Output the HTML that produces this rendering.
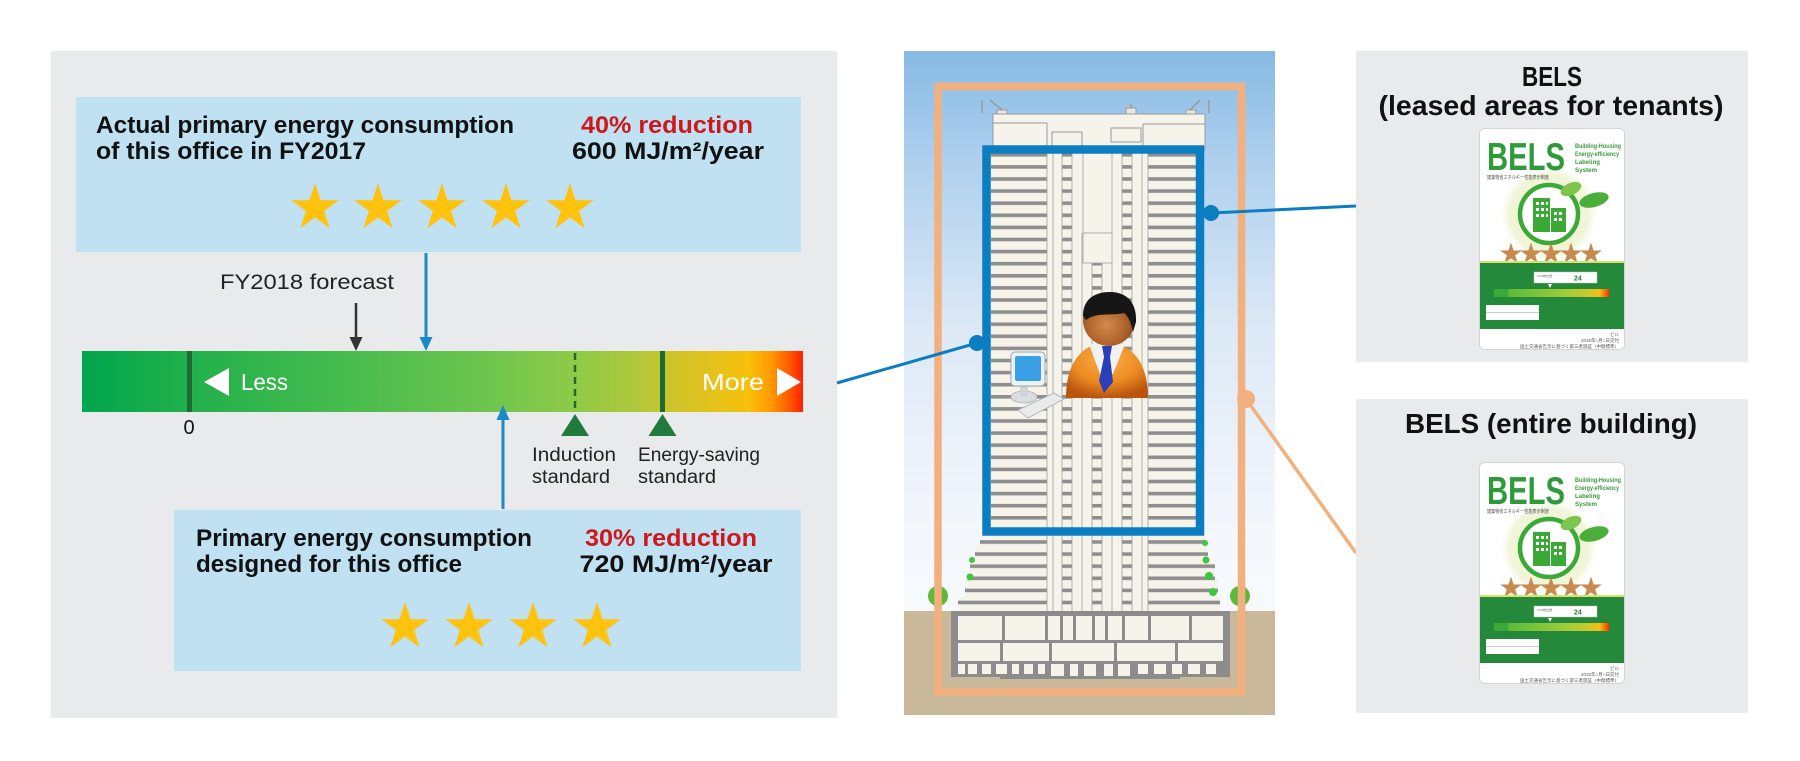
<!DOCTYPE html>
<html>
<head>
<meta charset="utf-8">
<style>
html,body{margin:0;padding:0;background:#fff;}
body{width:1800px;height:761px;overflow:hidden;}
svg{display:block;}
</style>
</head>
<body>
<svg width="1800" height="761" viewBox="0 0 1800 761" xmlns="http://www.w3.org/2000/svg" xmlns:xlink="http://www.w3.org/1999/xlink" font-family="'Liberation Sans', 'Noto Sans CJK JP', sans-serif">
<defs>
  <path id="star" d="M0,-25 L5.61,-7.73 L23.78,-7.73 L9.08,2.95 L14.69,20.23 L0,9.55 L-14.69,20.23 L-9.08,2.95 L-23.78,-7.73 L-5.61,-7.73 Z"/>
  <linearGradient id="bar" x1="82" y1="0" x2="803" y2="0" gradientUnits="userSpaceOnUse">
    <stop offset="0" stop-color="#00a54f"/>
    <stop offset="0.12" stop-color="#1cae4b"/>
    <stop offset="0.35" stop-color="#45bb4e"/>
    <stop offset="0.55" stop-color="#6bc44e"/>
    <stop offset="0.68" stop-color="#8dca48"/>
    <stop offset="0.77" stop-color="#b0c83a"/>
    <stop offset="0.82" stop-color="#cfc42a"/>
    <stop offset="0.88" stop-color="#e6c21a"/>
    <stop offset="0.925" stop-color="#f8c00a"/>
    <stop offset="0.955" stop-color="#ff9a00"/>
    <stop offset="0.98" stop-color="#ff5c00"/>
    <stop offset="1" stop-color="#ff2000"/>
  </linearGradient>
  <linearGradient id="sky" x1="0" y1="51" x2="0" y2="611" gradientUnits="userSpaceOnUse">
    <stop offset="0" stop-color="#86bae3"/>
    <stop offset="0.2" stop-color="#afd0ee"/>
    <stop offset="0.5" stop-color="#dde9f6"/>
    <stop offset="0.85" stop-color="#f3f7fc"/>
    <stop offset="1" stop-color="#f7fafd"/>
  </linearGradient>
  <pattern id="floors" x="0" y="153" width="12" height="12.1" patternUnits="userSpaceOnUse">
    <rect width="12" height="12.1" fill="#f6f3ea"/>
    <rect y="0" width="12" height="3.6" fill="#8e8e8e"/>
  </pattern>
  <radialGradient id="headg" cx="0.45" cy="0.6" r="0.6">
    <stop offset="0" stop-color="#d58a4a"/>
    <stop offset="0.7" stop-color="#a85e26"/>
    <stop offset="1" stop-color="#7a3e14"/>
  </radialGradient>
  <radialGradient id="bodyg" cx="0.5" cy="0.3" r="0.7">
    <stop offset="0" stop-color="#fbb04a"/>
    <stop offset="0.6" stop-color="#ec8a22"/>
    <stop offset="1" stop-color="#b9540c"/>
  </radialGradient>
  <radialGradient id="burst" cx="0.5" cy="0.5" r="0.5">
    <stop offset="0" stop-color="#eef3cf"/>
    <stop offset="0.8" stop-color="#f1f5d9"/>
    <stop offset="1" stop-color="#ffffff" stop-opacity="0"/>
  </radialGradient>
  <linearGradient id="lbar" x1="0" y1="0" x2="1" y2="0">
    <stop offset="0" stop-color="#3aa935"/>
    <stop offset="0.12" stop-color="#3aa935"/>
    <stop offset="0.13" stop-color="#5cbb3a"/>
    <stop offset="0.6" stop-color="#9ccc3a"/>
    <stop offset="0.8" stop-color="#c6c830"/>
    <stop offset="0.92" stop-color="#f6c012"/>
    <stop offset="1" stop-color="#ff3000"/>
  </linearGradient>
</defs>

<!-- ================= LEFT PANEL ================= -->
<rect x="51" y="51" width="786" height="667" fill="#e9eaeb"/>

<!-- top box -->
<rect x="76" y="97" width="725" height="155" fill="#bfe1f1"/>
<text x="96" y="133" font-size="24" font-weight="bold" fill="#111" textLength="418" lengthAdjust="spacingAndGlyphs">Actual primary energy consumption</text>
<text x="96" y="159" font-size="24" font-weight="bold" fill="#111" textLength="270" lengthAdjust="spacingAndGlyphs">of this office in FY2017</text>
<text x="667" y="133" font-size="24" font-weight="bold" fill="#d0161b" text-anchor="middle" textLength="172" lengthAdjust="spacingAndGlyphs">40% reduction</text>
<text x="668" y="159" font-size="24" font-weight="bold" fill="#111" text-anchor="middle" textLength="192" lengthAdjust="spacingAndGlyphs">600 MJ/m²/year</text>
<g fill="#ffc20e">
  <use xlink:href="#star" x="315" y="208"/>
  <use xlink:href="#star" x="378" y="208"/>
  <use xlink:href="#star" x="442" y="208"/>
  <use xlink:href="#star" x="506" y="208"/>
  <use xlink:href="#star" x="570" y="208"/>
</g>

<!-- arrows above bar -->
<line x1="426" y1="253" x2="426" y2="339" stroke="#1a8ac8" stroke-width="3"/>
<polygon points="419.5,337 432.5,337 426,351" fill="#1a8ac8"/>
<text x="220" y="289" font-size="21" fill="#222" textLength="174" lengthAdjust="spacingAndGlyphs">FY2018 forecast</text>
<line x1="356" y1="303" x2="356" y2="339" stroke="#333" stroke-width="2.5"/>
<polygon points="349.5,337 362.5,337 356,351" fill="#333"/>

<!-- bar -->
<rect x="82" y="351" width="721" height="61" fill="url(#bar)"/>
<rect x="187" y="351" width="5" height="61" fill="#1d6a34"/>
<line x1="575" y1="353" x2="575" y2="412" stroke="#1d6a34" stroke-width="2.5" stroke-dasharray="7 5"/>
<rect x="660" y="351" width="5" height="61" fill="#1d6a34"/>
<polygon points="229,368 229,396 204,382" fill="#fff"/>
<text x="241" y="390" font-size="23" fill="#fff" textLength="47" lengthAdjust="spacingAndGlyphs">Less</text>
<text x="702" y="390" font-size="23" fill="#fff" textLength="62" lengthAdjust="spacingAndGlyphs">More</text>
<polygon points="777,368 777,396 801,382" fill="#fff"/>

<!-- below bar -->
<text x="189" y="434" font-size="20" fill="#111" text-anchor="middle">0</text>
<polygon points="575,414 561,436 589,436" fill="#1f7a3c"/>
<polygon points="662.5,414 648.5,436 676.5,436" fill="#1f7a3c"/>
<text x="532" y="461" font-size="19" fill="#222" textLength="84" lengthAdjust="spacingAndGlyphs">Induction</text>
<text x="532" y="483" font-size="19" fill="#222" textLength="78" lengthAdjust="spacingAndGlyphs">standard</text>
<text x="638" y="461" font-size="19" fill="#222" textLength="122" lengthAdjust="spacingAndGlyphs">Energy-saving</text>
<text x="638" y="483" font-size="19" fill="#222" textLength="78" lengthAdjust="spacingAndGlyphs">standard</text>

<line x1="503" y1="509" x2="503" y2="418" stroke="#1a8ac8" stroke-width="3"/>
<polygon points="496.5,420 509.5,420 503,405" fill="#1a8ac8"/>

<!-- bottom box -->
<rect x="174" y="510" width="627" height="161" fill="#bfe1f1"/>
<text x="196" y="546" font-size="24" font-weight="bold" fill="#111" textLength="336" lengthAdjust="spacingAndGlyphs">Primary energy consumption</text>
<text x="196" y="572" font-size="24" font-weight="bold" fill="#111" textLength="266" lengthAdjust="spacingAndGlyphs">designed for this office</text>
<text x="671" y="546" font-size="24" font-weight="bold" fill="#d0161b" text-anchor="middle" textLength="172" lengthAdjust="spacingAndGlyphs">30% reduction</text>
<text x="676" y="572" font-size="24" font-weight="bold" fill="#111" text-anchor="middle" textLength="193" lengthAdjust="spacingAndGlyphs">720 MJ/m²/year</text>
<g fill="#ffc20e">
  <use xlink:href="#star" x="405" y="627"/>
  <use xlink:href="#star" x="469" y="627"/>
  <use xlink:href="#star" x="533" y="627"/>
  <use xlink:href="#star" x="597" y="627"/>
</g>

<!-- ================= BUILDING PANEL ================= -->
<rect x="904" y="51" width="371" height="560" fill="url(#sky)"/>
<rect x="904" y="611" width="371" height="104" fill="#c9b99a"/>

<!-- roof equipment -->
<g stroke="#9a9a9a" stroke-width="1.5" fill="none">
  <line x1="982" y1="100" x2="982" y2="113"/>
  <line x1="990" y1="100" x2="1002" y2="110"/>
  <line x1="1209" y1="100" x2="1209" y2="113"/>
  <line x1="1200" y1="100" x2="1190" y2="110"/>
  <line x1="1131" y1="104" x2="1131" y2="113"/>
</g>
<g fill="#e8e6de" stroke="#9a9a9a" stroke-width="1">
  <rect x="997" y="110" width="10" height="5"/>
  <rect x="1186" y="110" width="10" height="5"/>
  <rect x="1126" y="108" width="10" height="6"/>
</g>
<!-- top block -->
<rect x="993" y="114" width="212" height="36" fill="#f6f3ea" stroke="#9a9a9a" stroke-width="1"/>
<g stroke="#9a9a9a" stroke-width="1" fill="none">
  <line x1="993" y1="123" x2="1047" y2="123"/>
  <line x1="1047" y1="123" x2="1047" y2="150"/>
  <rect x="1052" y="132" width="30" height="18"/>
  <rect x="1111" y="128" width="30" height="14"/>
  <line x1="1143" y1="124" x2="1205" y2="124"/>
  <line x1="1143" y1="124" x2="1143" y2="150"/>
</g>

<!-- tower body -->
<rect x="991" y="150" width="208" height="390" fill="url(#floors)"/>
<rect x="980" y="536" width="225" height="10" fill="url(#floors)"/>
<rect x="975" y="546" width="233" height="17" fill="url(#floors)"/>
<rect x="970" y="563" width="245" height="17" fill="url(#floors)"/>
<rect x="965" y="580" width="253" height="17" fill="url(#floors)"/>
<rect x="958" y="597" width="262" height="16" fill="url(#floors)"/>

<!-- central columns -->
<g fill="#f6f3ea" stroke="#a2a2a2" stroke-width="0.8">
  <rect x="1047" y="150" width="15" height="463"/>
  <rect x="1072" y="150" width="20" height="463"/>
  <rect x="1102" y="150" width="20" height="463"/>
  <rect x="1132" y="150" width="16" height="463"/>
  <rect x="1083" y="153" width="29" height="80"/>
  <rect x="1083" y="233" width="29" height="30"/>
</g>
<g stroke="#a2a2a2" stroke-width="0.8">
  <line x1="1053" y1="150" x2="1053" y2="613"/>
  <line x1="1082" y1="233" x2="1082" y2="613"/>
  <line x1="1112" y1="263" x2="1112" y2="613"/>
  <line x1="1142" y1="150" x2="1142" y2="613"/>
</g>

<!-- basement -->
<rect x="951" y="611" width="279" height="66" fill="#8c8c8c"/>
<rect x="1000" y="670" width="180" height="9" fill="#8c8c8c"/>
<g fill="#f6f3ea">
  <rect x="958" y="616" width="44" height="24"/>
  <rect x="1005" y="616" width="40" height="24"/>
  <rect x="1048" y="616" width="12" height="24"/>
  <rect x="1063" y="616" width="10" height="24"/>
  <rect x="1076" y="616" width="16" height="24"/>
  <rect x="1095" y="616" width="10" height="24"/>
  <rect x="1108" y="616" width="14" height="24"/>
  <rect x="1125" y="616" width="23" height="24"/>
  <rect x="1151" y="616" width="38" height="24"/>
  <rect x="1192" y="616" width="31" height="24"/>
  <rect x="958" y="643" width="42" height="18"/>
  <rect x="1003" y="643" width="46" height="18"/>
  <rect x="1052" y="643" width="62" height="18"/>
  <rect x="1117" y="643" width="58" height="18"/>
  <rect x="1178" y="643" width="45" height="18"/>
  <rect x="958" y="664" width="7" height="10"/>
  <rect x="968" y="664" width="9" height="10"/>
  <rect x="982" y="664" width="9" height="10"/>
  <rect x="996" y="664" width="11" height="10"/>
  <rect x="1012" y="664" width="7" height="10"/>
  <rect x="1024" y="664" width="9" height="10"/>
  <rect x="1038" y="664" width="7" height="10"/>
  <rect x="1051" y="664" width="13" height="12"/>
  <rect x="1070" y="664" width="8" height="12"/>
  <rect x="1084" y="664" width="12" height="12"/>
  <rect x="1104" y="664" width="9" height="12"/>
  <rect x="1118" y="664" width="12" height="12"/>
  <rect x="1138" y="664" width="10" height="10"/>
  <rect x="1154" y="664" width="12" height="10"/>
  <rect x="1172" y="664" width="10" height="10"/>
  <rect x="1188" y="664" width="12" height="10"/>
  <rect x="1206" y="664" width="10" height="10"/>
</g>

<!-- trees and greenery -->
<g fill="#5fb83a">
  <circle cx="938" cy="596" r="10"/>
  <circle cx="1240" cy="596" r="10"/>
</g>
<g fill="#3cc83c">
  <circle cx="1205" cy="543" r="3"/>
  <circle cx="1206" cy="560" r="3.5"/>
  <circle cx="1209" cy="576" r="4"/>
  <circle cx="1213" cy="592" r="4"/>
  <circle cx="972" cy="560" r="3"/>
  <circle cx="970" cy="577" r="3.5"/>
</g>

<!-- orange frame (entire building) -->
<rect x="938" y="86.5" width="303.5" height="605.5" fill="none" stroke="#f2b07e" stroke-width="7.5"/>
<!-- blue frame (leased areas) -->
<rect x="986.5" y="149.5" width="213.5" height="382" fill="none" stroke="#0b7dc1" stroke-width="8.5"/>

<!-- computer -->
<ellipse cx="1024" cy="397" rx="13" ry="6" fill="#d9dde0" stroke="#a9afb3" stroke-width="0.8"/>
<rect x="1020" y="386" width="8" height="10" fill="#cfd4d8"/>
<rect x="1011" y="352" width="34" height="34" rx="4" fill="#eef2f5" stroke="#9aa6ad" stroke-width="1"/>
<rect x="1015" y="356" width="26" height="25" rx="2" fill="#3aa0e6"/>
<polygon points="1018,410 1054,393 1064,399 1028,418" fill="#e8eaec" stroke="#a6abaf" stroke-width="0.8"/>

<!-- person -->
<path d="M1066,398 C1066,362 1082,344 1107,342 C1132,344 1148,362 1148,398 Z" fill="url(#bodyg)"/>
<polygon points="1089,344 1125,344 1113,374 1100,374" fill="#f2f2f2"/>
<polygon points="1102,346 1112,346 1110,357 1113,382 1104,393 1099,381 1104,357" fill="#2a3fb8"/>
<circle cx="1109" cy="320" r="26" fill="url(#headg)"/>
<path d="M1083,316 C1083,298 1096,292 1110,292 C1128,292 1137,304 1136,322 L1133,332 C1131,322 1128,316 1124,313 C1112,316 1096,312 1086,320 Z" fill="#161616"/>

<!-- connectors -->
<line x1="837" y1="383" x2="977" y2="343" stroke="#0b7dc1" stroke-width="3"/>
<circle cx="977" cy="343" r="8" fill="#0b7dc1"/>
<line x1="1211" y1="213" x2="1356" y2="206" stroke="#0b7dc1" stroke-width="3"/>
<circle cx="1211" cy="213" r="8" fill="#0b7dc1"/>
<line x1="1246" y1="399" x2="1356" y2="553" stroke="#f2b07e" stroke-width="3.5"/>
<circle cx="1246" cy="399" r="9" fill="#f2b07e"/>

<!-- ================= RIGHT PANELS ================= -->
<rect x="1356" y="51" width="392" height="311" fill="#e9eaeb"/>
<rect x="1356" y="399" width="392" height="314" fill="#e9eaeb"/>
<text x="1552" y="86" font-size="28" font-weight="bold" fill="#111" text-anchor="middle" textLength="60" lengthAdjust="spacingAndGlyphs">BELS</text>
<text x="1551" y="115" font-size="28" font-weight="bold" fill="#111" text-anchor="middle" textLength="345" lengthAdjust="spacingAndGlyphs">(leased areas for tenants)</text>
<text x="1551" y="433" font-size="28" font-weight="bold" fill="#111" text-anchor="middle" textLength="292" lengthAdjust="spacingAndGlyphs">BELS (entire building)</text>

<!-- label 1 -->
<g transform="translate(1479,128)">
  <rect x="0.5" y="0.5" width="145" height="221" rx="5" fill="#fff" stroke="#d4d4d4"/>
  <circle cx="70" cy="86" r="50" fill="url(#burst)"/>
  <text x="8" y="42" font-size="39" font-weight="bold" fill="#2f9a3a" textLength="78" lengthAdjust="spacingAndGlyphs">BELS</text>
  <g font-size="6.5" font-weight="bold" fill="#3a9a3a">
    <text x="96" y="20" textLength="46" lengthAdjust="spacingAndGlyphs">Building-Housing</text>
    <text x="96" y="28" textLength="44" lengthAdjust="spacingAndGlyphs">Energy-efficiency</text>
    <text x="96" y="36" textLength="25" lengthAdjust="spacingAndGlyphs">Labeling</text>
    <text x="96" y="44" textLength="22" lengthAdjust="spacingAndGlyphs">System</text>
  </g>
  <text x="8" y="51" font-size="5" fill="#555" textLength="62" lengthAdjust="spacingAndGlyphs">建築物省エネルギー性能表示制度</text>
  <circle cx="70" cy="86" r="29" fill="#fff" stroke="#3aa935" stroke-width="4.5"/>
  <rect x="54" y="70" width="17" height="34" fill="#3aa935"/>
  <rect x="72" y="80" width="15" height="24" fill="#3aa935"/>
  <g fill="#fff">
    <rect x="57" y="74" width="3" height="3"/><rect x="62" y="74" width="3" height="3"/><rect x="67" y="74" width="2" height="3"/>
    <rect x="57" y="80" width="3" height="3"/><rect x="62" y="80" width="3" height="3"/><rect x="67" y="80" width="2" height="3"/>
    <rect x="57" y="86" width="3" height="3"/><rect x="62" y="86" width="3" height="3"/><rect x="67" y="86" width="2" height="3"/>
    <rect x="75" y="84" width="3" height="3"/><rect x="80" y="84" width="3" height="3"/>
    <rect x="75" y="90" width="3" height="3"/><rect x="80" y="90" width="3" height="3"/>
  </g>
  <ellipse cx="92" cy="61" rx="11" ry="6" transform="rotate(-25 92 61)" fill="#7cc64e"/>
  <ellipse cx="115" cy="72" rx="15" ry="7" transform="rotate(-15 115 72)" fill="#4cae3a"/>
  <g fill="#c98a50" stroke="#a86a30" stroke-width="0.5">
    <use xlink:href="#star" transform="translate(32,126) scale(0.44)"/>
    <use xlink:href="#star" transform="translate(52,126) scale(0.44)"/>
    <use xlink:href="#star" transform="translate(72,126) scale(0.44)"/>
    <use xlink:href="#star" transform="translate(92,126) scale(0.44)"/>
    <use xlink:href="#star" transform="translate(112,126) scale(0.44)"/>
  </g>
  <rect x="1" y="133" width="144" height="2" fill="#d7e26a"/>
  <rect x="1" y="135" width="144" height="66" fill="#25893b"/>
  <rect x="55" y="144" width="63" height="11" fill="#fff" stroke="#bbb" stroke-width="0.5"/>
  <text x="95" y="152.5" font-size="7" font-weight="bold" fill="#2a7a3a">24</text>
  <text x="58" y="149" font-size="3" fill="#666">CO2排出量</text>
  <rect x="15" y="161" width="115" height="8" fill="url(#lbar)"/>
  <polygon points="69,156 73,156 71,160" fill="#fff"/>
  <rect x="7" y="177" width="53" height="15" fill="#fff"/>
  <line x1="7" y1="184.5" x2="60" y2="184.5" stroke="#999" stroke-width="0.5"/>
  <g font-size="4.5" fill="#555" text-anchor="end">
    <text x="140" y="208">ビル</text>
    <text x="140" y="214">2016年○月○日交付</text>
    <text x="140" y="220">国土交通省告示に基づく第三者認証（中間標準）</text>
  </g>
</g>

<!-- label 2 -->
<g transform="translate(1479,462)">
  <rect x="0.5" y="0.5" width="145" height="221" rx="5" fill="#fff" stroke="#d4d4d4"/>
  <circle cx="70" cy="86" r="50" fill="url(#burst)"/>
  <text x="8" y="42" font-size="39" font-weight="bold" fill="#2f9a3a" textLength="78" lengthAdjust="spacingAndGlyphs">BELS</text>
  <g font-size="6.5" font-weight="bold" fill="#3a9a3a">
    <text x="96" y="20" textLength="46" lengthAdjust="spacingAndGlyphs">Building-Housing</text>
    <text x="96" y="28" textLength="44" lengthAdjust="spacingAndGlyphs">Energy-efficiency</text>
    <text x="96" y="36" textLength="25" lengthAdjust="spacingAndGlyphs">Labeling</text>
    <text x="96" y="44" textLength="22" lengthAdjust="spacingAndGlyphs">System</text>
  </g>
  <text x="8" y="51" font-size="5" fill="#555" textLength="62" lengthAdjust="spacingAndGlyphs">建築物省エネルギー性能表示制度</text>
  <circle cx="70" cy="86" r="29" fill="#fff" stroke="#3aa935" stroke-width="4.5"/>
  <rect x="54" y="70" width="17" height="34" fill="#3aa935"/>
  <rect x="72" y="80" width="15" height="24" fill="#3aa935"/>
  <g fill="#fff">
    <rect x="57" y="74" width="3" height="3"/><rect x="62" y="74" width="3" height="3"/><rect x="67" y="74" width="2" height="3"/>
    <rect x="57" y="80" width="3" height="3"/><rect x="62" y="80" width="3" height="3"/><rect x="67" y="80" width="2" height="3"/>
    <rect x="57" y="86" width="3" height="3"/><rect x="62" y="86" width="3" height="3"/><rect x="67" y="86" width="2" height="3"/>
    <rect x="75" y="84" width="3" height="3"/><rect x="80" y="84" width="3" height="3"/>
    <rect x="75" y="90" width="3" height="3"/><rect x="80" y="90" width="3" height="3"/>
  </g>
  <ellipse cx="92" cy="61" rx="11" ry="6" transform="rotate(-25 92 61)" fill="#7cc64e"/>
  <ellipse cx="115" cy="72" rx="15" ry="7" transform="rotate(-15 115 72)" fill="#4cae3a"/>
  <g fill="#c98a50" stroke="#a86a30" stroke-width="0.5">
    <use xlink:href="#star" transform="translate(32,126) scale(0.44)"/>
    <use xlink:href="#star" transform="translate(52,126) scale(0.44)"/>
    <use xlink:href="#star" transform="translate(72,126) scale(0.44)"/>
    <use xlink:href="#star" transform="translate(92,126) scale(0.44)"/>
    <use xlink:href="#star" transform="translate(112,126) scale(0.44)"/>
  </g>
  <rect x="1" y="133" width="144" height="2" fill="#d7e26a"/>
  <rect x="1" y="135" width="144" height="66" fill="#25893b"/>
  <rect x="55" y="144" width="63" height="11" fill="#fff" stroke="#bbb" stroke-width="0.5"/>
  <text x="95" y="152.5" font-size="7" font-weight="bold" fill="#2a7a3a">24</text>
  <text x="58" y="149" font-size="3" fill="#666">CO2排出量</text>
  <rect x="15" y="161" width="115" height="8" fill="url(#lbar)"/>
  <polygon points="69,156 73,156 71,160" fill="#fff"/>
  <rect x="7" y="177" width="53" height="15" fill="#fff"/>
  <line x1="7" y1="184.5" x2="60" y2="184.5" stroke="#999" stroke-width="0.5"/>
  <g font-size="4.5" fill="#555" text-anchor="end">
    <text x="140" y="208">ビル</text>
    <text x="140" y="214">2016年○月○日交付</text>
    <text x="140" y="220">国土交通省告示に基づく第三者認証（中間標準）</text>
  </g>
</g>
</svg>
</body>
</html>
